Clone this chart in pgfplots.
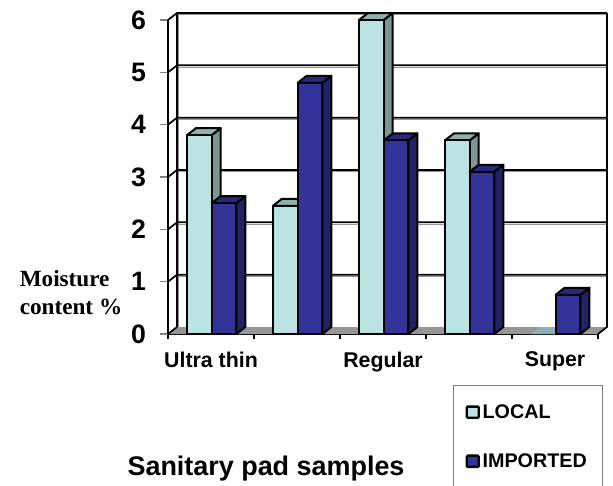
\documentclass[border=0pt]{standalone}
\usepackage{fontspec}
\setmainfont{Liberation Sans}
\newfontfamily\serifb{Liberation Serif}
\usepackage{pgfplots}
\pgfplotsset{compat=1.18}
\definecolor{lf}{HTML}{BBE3E3}
\definecolor{ls}{HTML}{7C9696}
\definecolor{lt}{HTML}{8FB0B0}
\definecolor{df}{HTML}{333399}
\definecolor{ds}{HTML}{222266}
\definecolor{dt}{HTML}{28287C}
\definecolor{fl}{HTML}{969696}
\newcommand{\DX}{0.10465}
\newcommand{\DY}{0.13376}
\newcommand{\BW}{0.287}
% x start, value, front, side, top
\newcommand{\bbar}[5]{%
  \pgfmathsetmacro{\xa}{#1}\pgfmathsetmacro{\xb}{#1+\BW}%
  \pgfmathsetmacro{\xc}{#1+\BW+\DX}\pgfmathsetmacro{\xd}{#1+\DX}%
  \pgfmathsetmacro{\vt}{#2+\DY}%
  \addplot[fill=#4,draw=black,line width=1.5pt,line join=round,forget plot] coordinates {(\xb,0) (\xc,\DY) (\xc,\vt) (\xb,#2)} -- cycle;
  \addplot[fill=#5,draw=black,line width=1.5pt,line join=round,forget plot] coordinates {(\xa,#2) (\xd,\vt) (\xc,\vt) (\xb,#2)} -- cycle;
  \addplot[fill=#3,draw=black,line width=1.5pt,line join=round,forget plot] coordinates {(\xa,0) (\xb,0) (\xb,#2) (\xa,#2)} -- cycle;
}
\newcommand{\gridl}[1]{%
  \pgfmathsetmacro{\vt}{#1+\DY}\pgfmathsetmacro{\vs}{#1+\DY-0.035}%
  \addplot[draw=fl,line width=0.9pt,forget plot] coordinates {(\DX,\vs) (5.10465,\vs)};
  \addplot[draw=black,line width=1.3pt,forget plot] coordinates {(0,#1) (\DX,\vt) (5.10465,\vt)};
}
\begin{document}
\begin{tikzpicture}
\useasboundingbox (0,0) rectangle (459.75pt,363.75pt);
\begin{axis}[
  at={(126pt,113.25pt)}, anchor=origin,
  scale only axis, width=322.5pt, height=235.5pt,
  xmin=0, xmax=5, ymin=0, ymax=6, clip=false,
  axis lines=left, axis line style={-,black,line width=1.9pt},
  tick align=outside,
  ytick={0,1,2,3,4,5,6},
  xtick={0.5,1.5,2.5,3.5,4.5},
  xticklabels={Ultra thin,,Regular,,Super},
  minor xtick={0,1,2,3,4,5},
  major tick length=6pt,
  xtick style={draw=none},
  minor x tick style={draw=black,line width=0.8pt},
  minor tick length=4pt,
  ytick style={draw=gray,line width=0.9pt},
  /pgf/number format/assume math mode=true,
  y tick label style={font=\fontsize{20}{20}\selectfont\bfseries, xshift=-7pt},
  x tick label style={font=\fontsize{16}{16}\selectfont\bfseries, yshift=-4pt},
  ylabel={Moisture\\[1pt]content \%},
  ylabel style={rotate=-90, at={(axis cs:-1.128,0.8)}, anchor=center, align=left, font=\serifb\fontsize{17.4}{20}\selectfont\bfseries},
  xlabel={Sanitary pad samples},
  xlabel style={at={(axis cs:1.14,-2.58)}, anchor=center, font=\fontsize{20.2}{20}\selectfont\bfseries},
  legend style={at={(axis cs:3.314,-2.95)}, anchor=south west, draw=gray, line width=0.8pt,
    font=\fontsize{14.8}{14.8}\selectfont\bfseries, inner xsep=9pt, inner ysep=12pt,
    /tikz/row sep=21pt, text width=79pt, cells={anchor=west}},
  legend image code/.code={\draw[#1,line width=1.8pt,rounded corners=0.8pt] (0pt,-4.2pt) rectangle (9pt,4.2pt);},
  legend cell align=left,
]
% floor
\addplot[fill=fl,draw=none,forget plot] coordinates {(0,0) (\DX,\DY) (5.10465,\DY) (5,0)} -- cycle;
% walls
\addplot[draw=fl,line width=0.9pt,forget plot] coordinates {(0.118,0.134) (0.118,6.134)};
\gridl{1}\gridl{2}\gridl{3}\gridl{4}\gridl{5}\gridl{6}
\addplot[draw=black,line width=1.3pt,forget plot] coordinates {(\DX,\DY) (\DX,6.13376)};
\addplot[draw=black,line width=1.3pt,forget plot] coordinates {(5,0) (5.10465,\DY) (5.10465,6.13376)};
\addplot[draw=black,line width=1.3pt,forget plot] coordinates {(0,0) (\DX,\DY)};
% bars
\bbar{0.221}{3.8}{lf}{ls}{lt}
\bbar{0.508}{2.5}{df}{ds}{dt}
\bbar{1.221}{2.45}{lf}{ls}{lt}
\bbar{1.508}{4.8}{df}{ds}{dt}
\bbar{2.221}{6}{lf}{ls}{lt}
\bbar{2.508}{3.7}{df}{ds}{dt}
\bbar{3.221}{3.7}{lf}{ls}{lt}
\bbar{3.508}{3.1}{df}{ds}{dt}
\addplot[fill=lt,draw=none,forget plot] coordinates {(4.221,0) (4.508,0) (4.6127,\DY) (4.3257,\DY)} -- cycle;
\bbar{4.508}{0.75}{df}{ds}{dt}
\addlegendimage{fill=lf,draw=black}
\addlegendentry{LOCAL}
\addlegendimage{fill=df,draw=black}
\addlegendentry{IMPORTED}
\end{axis}
\end{tikzpicture}
\end{document}
